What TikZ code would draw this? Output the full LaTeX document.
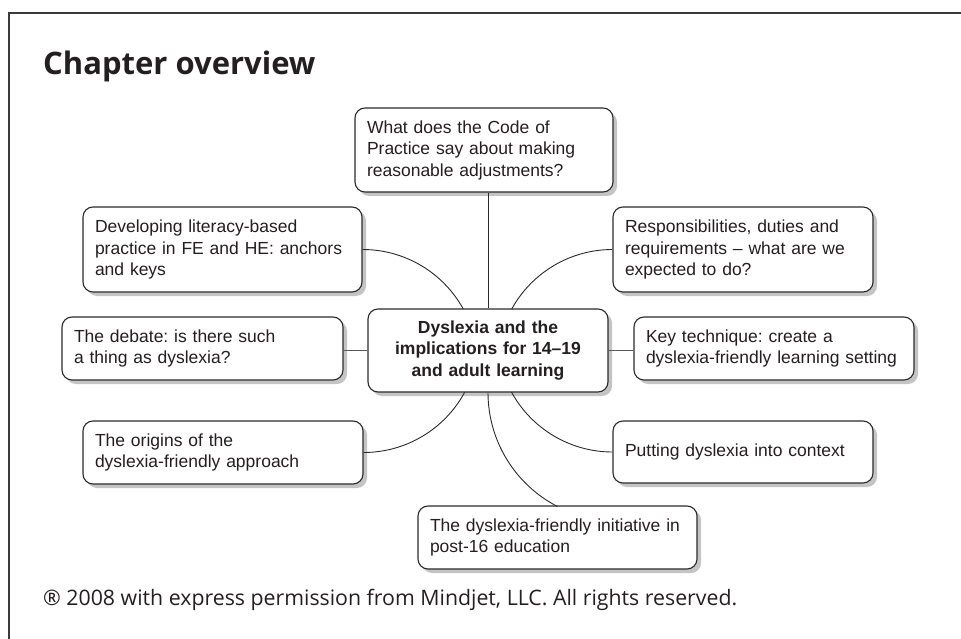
\documentclass[tikz,border=0pt]{standalone}
\usepackage{fontspec}
\setmainfont{Liberation Sans}
\newfontfamily\headfont{Open Sans}
\usetikzlibrary{shadows}
\frenchspacing

\definecolor{inkc}{HTML}{231F20}
\definecolor{linec}{HTML}{2B2B2B}
\definecolor{linkc}{HTML}{5A5A5A}
\definecolor{shadowc}{HTML}{C4C4C4}
\definecolor{framec}{HTML}{3A3A3A}

\tikzset{
  topic/.style={draw=linec, line width=1.1pt, rounded corners=10pt, fill=white,
    text=inkc, align=left, inner xsep=12pt, inner ysep=0pt,
    font=\fontsize{17.5}{21.5}\selectfont,
    drop shadow={shadow xshift=4pt, shadow yshift=-4pt, fill=shadowc, opacity=1}},
  hubbox/.style={topic, align=center, font=\fontsize{17.5}{21.5}\selectfont\bfseries},
  conn/.style={draw=linec, line width=0.9pt},
  link/.style={draw=linkc, line width=1.8pt},
  frameline/.style={draw=framec, line width=1.4pt},
}

\begin{document}
\begin{tikzpicture}[x=1pt, y=1pt]
  \useasboundingbox (0,0) rectangle (961,-639);

  % page frame: top rule and left rule
  \draw[frameline] (9,-639) -- (9,-13) -- (961,-13);

  % heading
  \node[anchor=base west, inner sep=0pt, text=inkc,
        font=\headfont\fontsize{31}{36}\selectfont\bfseries] (title) at (43,-75) {Chapter overview};

  % central topic
  \node[hubbox, text width=216pt, minimum height=83pt] (hub) at (488,-350.5)
    {Dyslexia and the\\implications for 14--19\\and adult learning};

  % subtopics
  \node[topic, text width=234pt, minimum height=84pt] (code) at (484,-150)
    {What does the Code of\\Practice say about making\\reasonable adjustments?};
  \node[topic, text width=255pt, minimum height=85pt] (dev) at (222.5,-249.5)
    {Developing literacy-based\\practice in FE and HE: anchors\\and keys};
  \node[topic, text width=236pt, minimum height=85pt] (resp) at (743,-249.5)
    {Responsibilities, duties and\\requirements -- what are we\\expected to do?};
  \node[topic, text width=257pt, minimum height=63pt] (debate) at (202.5,-348.5)
    {The debate: is there such\\a thing as dyslexia?};
  \node[topic, text width=256pt, minimum height=63pt] (key) at (774,-348.5)
    {Key technique: create a\\dyslexia-friendly learning setting};
  \node[topic, text width=256pt, minimum height=63pt] (origins) at (223,-452.5)
    {The origins of the\\dyslexia-friendly approach};
  \node[topic, text width=236pt, minimum height=62pt] (putting) at (743,-452)
    {Putting dyslexia into context};
  \node[topic, text width=255pt, minimum height=63pt] (post) at (557.5,-537.5)
    {The dyslexia-friendly initiative in\\post-16 education};

  % connectors
  \draw[conn] (hub.north) -- (hub.north |- code.south);
  \draw[conn] (dev.east) arc[start angle=90, end angle=28.86, radius=115];
  \draw[conn] (resp.west) arc[start angle=90, end angle=151.14, radius=115];
  \draw[conn] (origins.east) arc[start angle=270, end angle=331.71, radius=115];
  \draw[conn] (putting.west) arc[start angle=270, end angle=208.57, radius=115];
  \draw[conn] (hub.south) arc[start angle=180, end angle=242.76, radius=128.2];
  \draw[link] (hub.west) -- (hub.west -| debate.east);
  \draw[link] (hub.east) -- (hub.east -| key.west);

  % credit line
  \node[anchor=base west, inner sep=0pt, text=inkc,
        font=\headfont\fontsize{21.3}{25}\selectfont] (credit) at (43,-605)
    {® 2008 with express permission from Mindjet, LLC. All rights reserved.};
\end{tikzpicture}
\end{document}
